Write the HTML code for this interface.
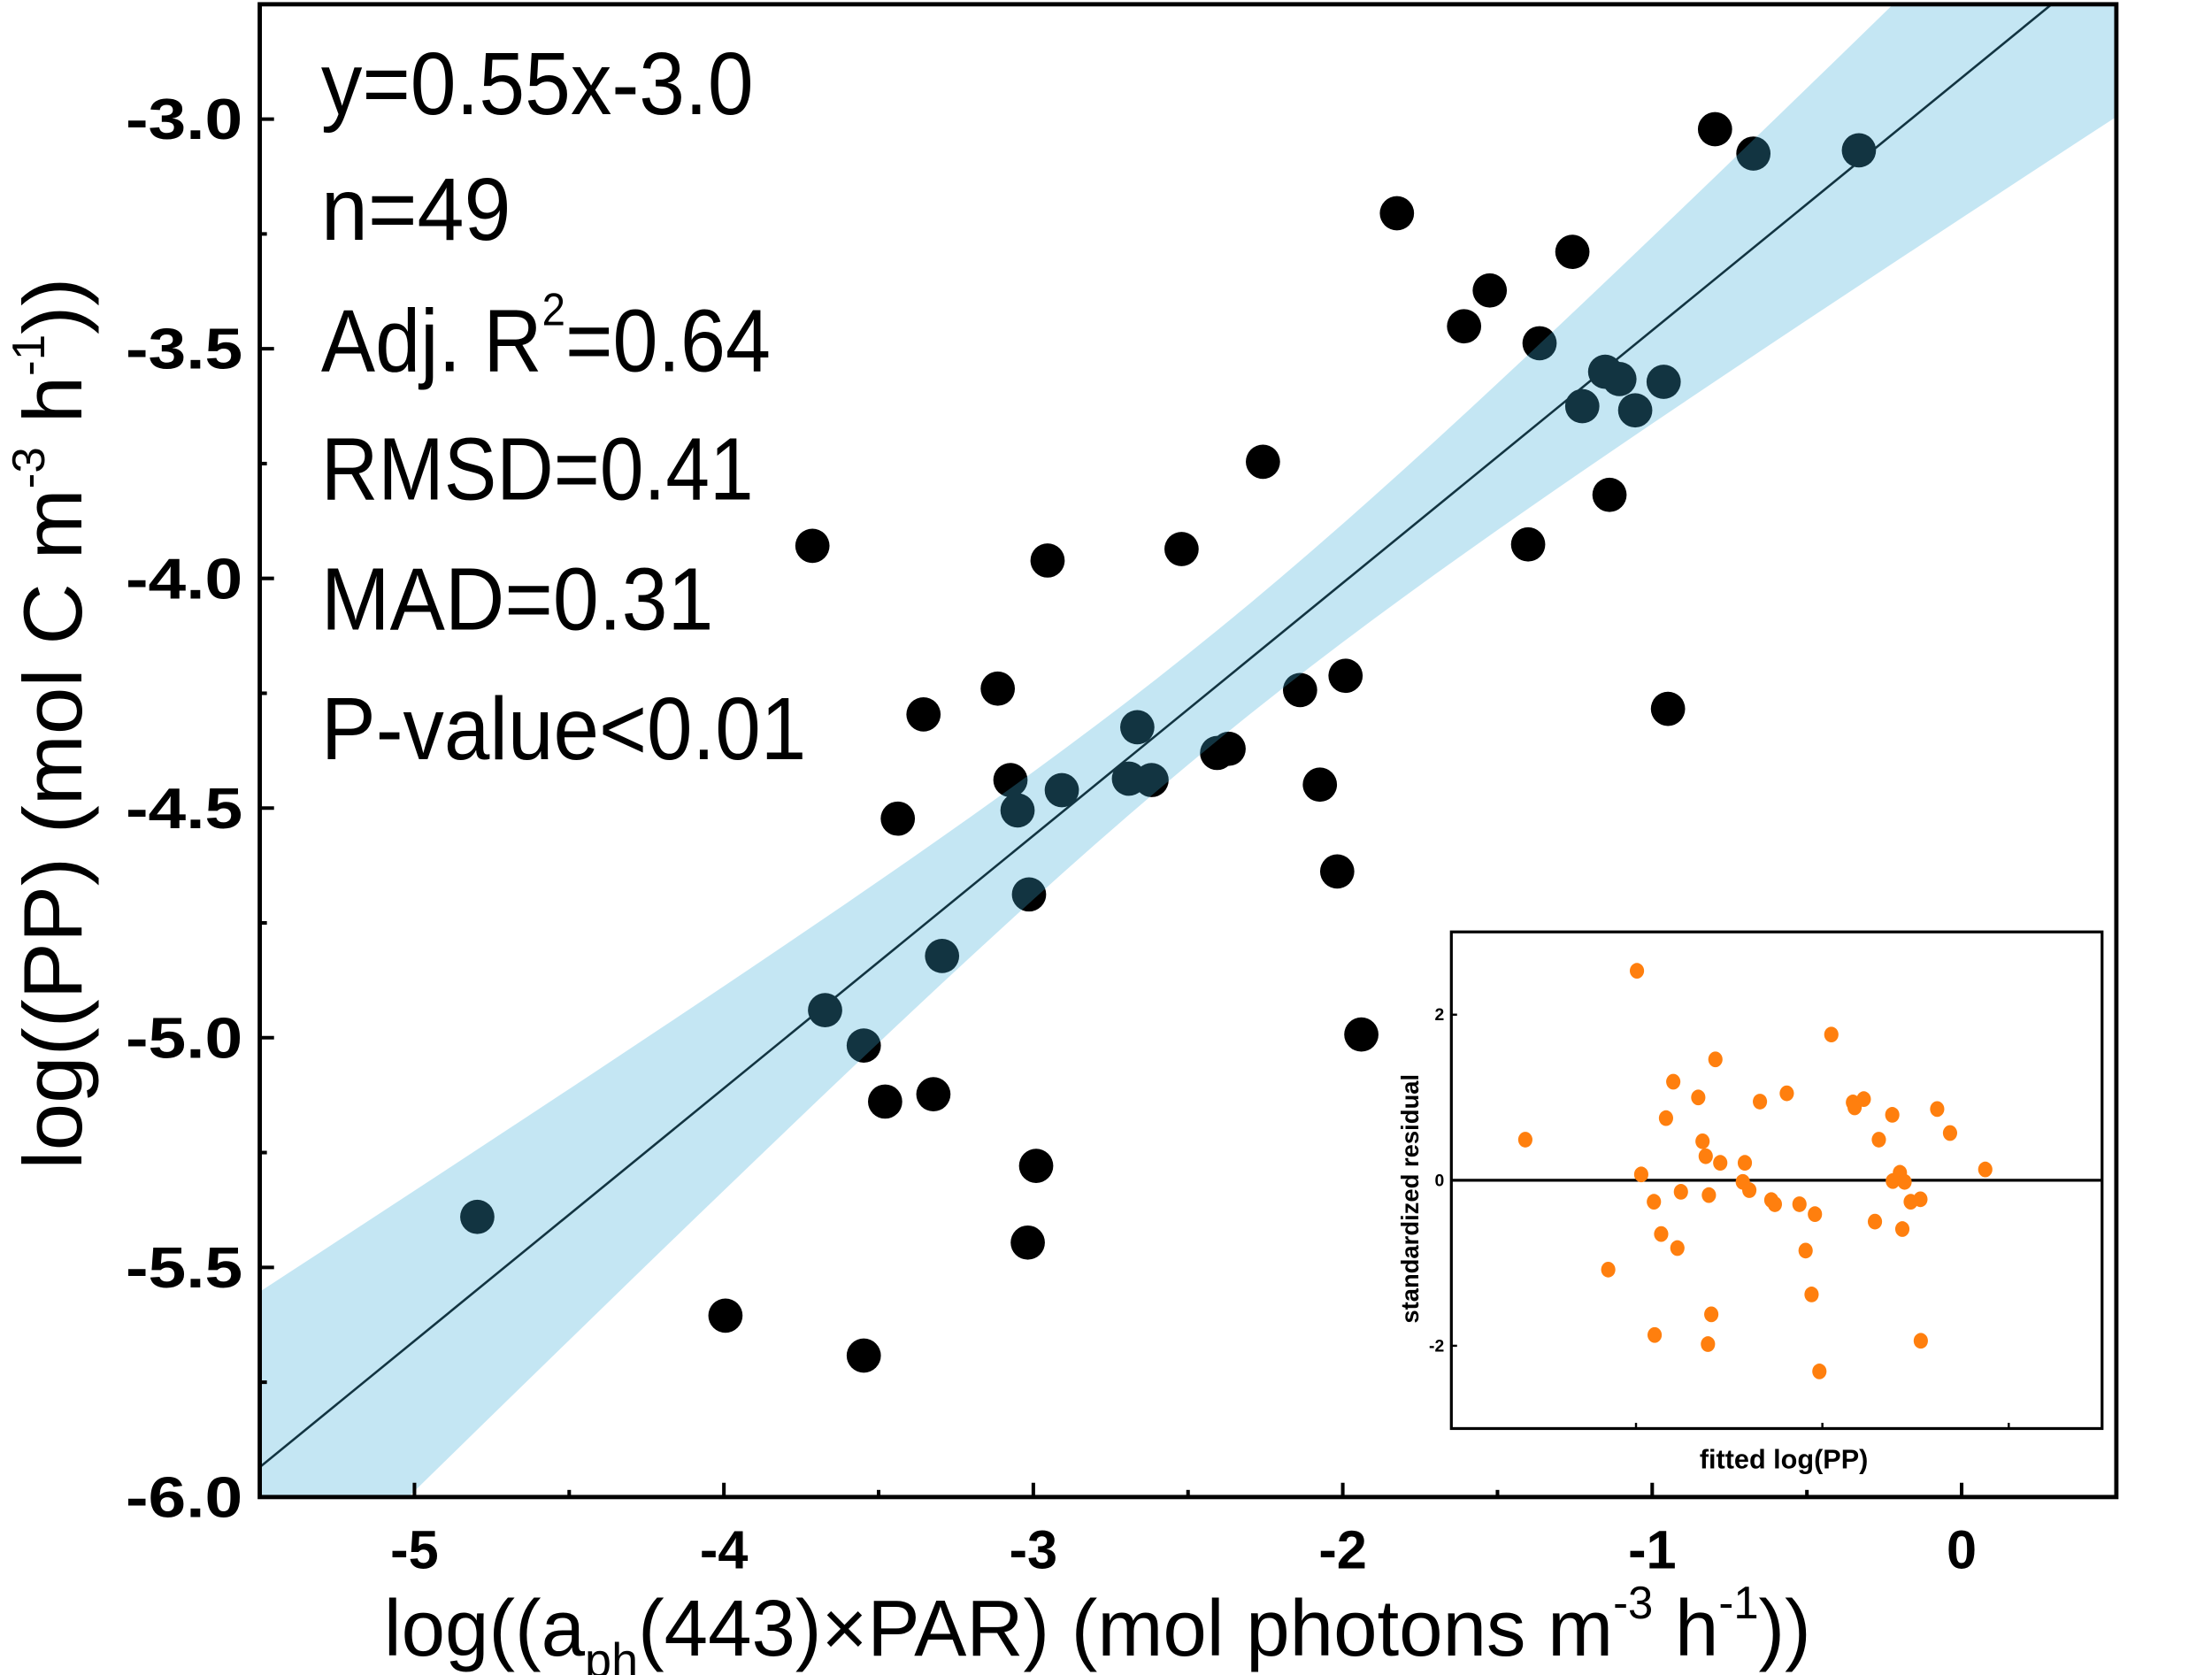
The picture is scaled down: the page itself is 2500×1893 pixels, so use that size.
<!DOCTYPE html>
<html><head><meta charset="utf-8"><style>
html,body{margin:0;padding:0;background:#fff;}
svg{display:block;}
text{font-family:"Liberation Sans","DejaVu Sans",sans-serif;}
</style></head><body>
<svg id="chart" width="2500" height="1893" viewBox="0 0 1550 1173.7" xmlns="http://www.w3.org/2000/svg">
<defs><clipPath id="plotclip"><rect x="182" y="3" width="1301" height="1046"/></clipPath>
<clipPath id="insetclip"><rect x="1017" y="653" width="456" height="348"/></clipPath></defs>
<g id="main-plot"></g>
<g id="stats">
<text x="225" y="80" font-size="62" textLength="303" lengthAdjust="spacingAndGlyphs">y=0.55x-3.0</text>
<text x="225" y="168" font-size="62" textLength="133" lengthAdjust="spacingAndGlyphs">n=49</text>
<text x="225" y="260" font-size="62" textLength="315" lengthAdjust="spacingAndGlyphs">Adj. R<tspan font-size="32" dy="-32">2</tspan><tspan dy="32">=0.64</tspan></text>
<text x="225" y="350" font-size="62" textLength="303" lengthAdjust="spacingAndGlyphs">RMSD=0.41</text>
<text x="225" y="441" font-size="62" textLength="275" lengthAdjust="spacingAndGlyphs">MAD=0.31</text>
<text x="225" y="532" font-size="62" textLength="340" lengthAdjust="spacingAndGlyphs">P-value&lt;0.01</text>
</g>
<text transform="translate(57,507) rotate(-90)" text-anchor="middle" font-size="58" textLength="625" lengthAdjust="spacingAndGlyphs">log((PP) (mol C m<tspan font-size="32" dy="-26">-3</tspan><tspan dy="26"> h</tspan><tspan font-size="32" dy="-26">-1</tspan><tspan dy="26">))</tspan></text>
<text x="769" y="1160" text-anchor="middle" font-size="56" textLength="1000" lengthAdjust="spacingAndGlyphs">log((a<tspan font-size="34" dy="15">ph</tspan><tspan dy="-15">(443)×PAR) (mol photons m</tspan><tspan font-size="32" dy="-26">-3</tspan><tspan dy="26"> h</tspan><tspan font-size="32" dy="-26">-1</tspan><tspan dy="26">))</tspan></text>
<g id="inset"></g>
</svg>
<script>
// ---- main chart data ----
const obsX = [-0.797,-0.673,-0.332,-1.825,-1.258,-1.525,-1.608,-1.364,-1.152,-1.106,-0.963,-1.226,-1.055,-2.258,-1.138,-3.714,-2.521,-1.401,-2.954,-1.991,-2.138,-3.115,-3.355,-0.949,-2.664,-2.369,-2.406,-3.074,-2.691,-2.618,-2.908,-2.074,-3.051,-3.438,-2.018,-3.014,-3.295,-3.673,-3.548,-1.940,-3.479,-3.323,-2.991,-3.018,-4.797,-3.995,-3.548];
const obsY = [-3.022,-3.075,-3.068,-3.205,-3.289,-3.373,-3.451,-3.488,-3.550,-3.566,-3.572,-3.625,-3.634,-3.746,-3.818,-3.929,-3.936,-3.926,-3.961,-4.212,-4.243,-4.240,-4.296,-4.284,-4.324,-4.371,-4.380,-4.439,-4.436,-4.439,-4.461,-4.449,-4.505,-4.523,-4.638,-4.688,-4.822,-4.940,-5.017,-4.993,-5.139,-5.123,-5.279,-5.446,-5.390,-5.605,-5.692];
const fitSlope = [0.55];
const fitIntercept = [-2.91];
const ciParams = [0.12, 0.117, -2.4]; // min half-width, spread, center
const xTicks = [-5,-4,-3,-2,-1,0];
const xTickLabels = ["-5","-4","-3","-2","-1","0"];
const yTicks = [-3.0,-3.5,-4.0,-4.5,-5.0,-5.5,-6.0];
const yTickLabels = ["-3.0","-3.5","-4.0","-4.5","-5.0","-5.5","-6.0"];
// ---- inset data ----
const fittedX = [-4.995,-3.952,-4.574,-4.80,-4.666,-4.335,-4.191,-3.836,-3.827,-3.778,-3.625,-3.384,-4.839,-3.315,-5.594,-4.643,-3.697,-4.626,-4.548,-4.416,-3.126,-4.972,-3.584,-3.622,-3.559,-4.427,-4.392,-4.759,-4.609,-4.274,-4.255,-4.123,-3.526,-3.474,-4.904,-4.040,-3.718,-3.571,-4.865,-4.778,-4.090,-5.149,-4.058,-4.596,-4.900,-4.614,-3.472,-4.016];
const residY = [2.53,1.76,1.46,1.19,1.00,0.95,1.05,0.94,0.88,0.98,0.79,0.86,0.75,0.57,0.49,0.47,0.49,0.29,0.21,0.21,0.13,0.07,0.09,-0.01,-0.02,-0.02,-0.12,-0.14,-0.18,-0.24,-0.29,-0.29,-0.26,-0.23,-0.26,-0.41,-0.50,-0.59,-0.65,-0.82,-0.85,-1.08,-1.38,-1.62,-1.87,-1.98,-1.94,-2.31];
const insetYTicks = [2,0,-2];
const insetYTickLabels = ["2","0","-2"];
const insetXTicks = [-5,-4,-3];

const NS="http://www.w3.org/2000/svg";
function mk(tag, attrs, parent){const e=document.createElementNS(NS,tag);for(const k in attrs)e.setAttribute(k,attrs[k]);parent.appendChild(e);return e;}
const L=182,R=1483,T=3,B=1049, X0=-5.5,X1=0.5,Y0=-6.0,Y1=-2.75;
const sx=v=>L+(v-X0)/(X1-X0)*(R-L);
const sy=v=>B-(v-Y0)/(Y1-Y0)*(B-T);
const main=document.getElementById('main-plot');
const cg=mk('g',{'clip-path':'url(#plotclip)'},main);
for(let i=0;i<obsX.length;i++){
  const c=mk('circle',{cx:sx(obsX[i]),cy:sy(obsY[i]),r:12,fill:'#000'},cg);
  
  
}
const fy=x=>fitSlope[0]*x+fitIntercept[0];
const fl=mk('line',{x1:sx(X0),y1:sy(fy(X0)),x2:sx(X1),y2:sy(fy(X1)),stroke:'#000','stroke-width':1.6},cg);


const hw=x=>Math.sqrt(ciParams[0]*ciParams[0]+ciParams[1]*ciParams[1]*(x-ciParams[2])*(x-ciParams[2]));
let up=[],lo=[];
for(let k=0;k<=60;k++){const x=X0+(X1-X0)*k/60;up.push(sx(x)+','+sy(fy(x)+hw(x)));lo.unshift(sx(x)+','+sy(fy(x)-hw(x)));}
const band=mk('polygon',{points:up.concat(lo).join(' '),fill:'rgba(60,171,215,0.3)'},cg);


const fr=mk('rect',{x:L,y:T,width:R-L,height:B-T,fill:'none',stroke:'#000','stroke-width':3},main);


for(let i=0;i<xTicks.length;i++){
  const x=sx(xTicks[i]);
  mk('line',{x1:x,y1:B,x2:x,y2:B-10,stroke:'#000','stroke-width':2.5},main);
  const m=sx(xTicks[i]+0.5);
  if(xTicks[i]+0.5<=X1) mk('line',{x1:m,y1:B,x2:m,y2:B-5,stroke:'#000','stroke-width':2.5},main);
  const t=mk('text',{x:x,y:B+50,'text-anchor':'middle','font-size':38,'font-weight':'bold'},main);
  t.textContent=xTickLabels[i];
  
  
}
mk('line',{x1:sx(-5.5),y1:B,x2:sx(-5.5),y2:B-5,stroke:'#000','stroke-width':2.5},main);
for(let i=0;i<yTicks.length;i++){
  const y=sy(yTicks[i]);
  mk('line',{x1:L,y1:y,x2:L+10,y2:y,stroke:'#000','stroke-width':2.5},main);
  const m=sy(yTicks[i]-0.25);
  if(yTicks[i]-0.25>=Y0) mk('line',{x1:L,y1:m,x2:L+5,y2:m,stroke:'#000','stroke-width':2.5},main);
  const t=mk('text',{x:L-12,y:y+14,'text-anchor':'end','font-size':40,'font-weight':'bold',textLength:82,lengthAdjust:'spacingAndGlyphs'},main);
  t.textContent=yTickLabels[i];
  
  
}
// ---- inset ----
const inset=document.getElementById('inset');
const iL=1017,iR=1473,iT=653,iB=1001;
const isx=v=>1146.4+(v+5)*130.6;
const isy=v=>827-v*58;
mk('rect',{x:iL,y:iT,width:iR-iL,height:iB-iT,fill:'#fff',stroke:'#000','stroke-width':2},inset);
const ig=mk('g',{'clip-path':'url(#insetclip)'},inset);
const zl=mk('line',{x1:iL,y1:isy(0),x2:iR,y2:isy(0),stroke:'#000','stroke-width':2},ig);


for(let i=0;i<fittedX.length;i++){
  const c=mk('ellipse',{cx:isx(fittedX[i]),cy:isy(residY[i]),rx:5,ry:5.5,fill:'#ff7f0e'},ig);
  
  
}
for(let i=0;i<insetYTicks.length;i++){
  const y=isy(insetYTicks[i]);
  mk('line',{x1:iL,y1:y,x2:iL+4,y2:y,stroke:'#000','stroke-width':1.5},inset);
  const t=mk('text',{x:iL-5,y:y+4,'text-anchor':'end','font-size':12,'font-weight':'bold'},inset);
  t.textContent=insetYTickLabels[i];
  
  
}
for(let i=0;i<insetXTicks.length;i++){
  const x=isx(insetXTicks[i]);
  mk('line',{x1:x,y1:iB,x2:x,y2:iB-4,stroke:'#000','stroke-width':1.5},inset);
}
const ixl=mk('text',{x:1250,y:1029,'text-anchor':'middle','font-size':19,'font-weight':'bold'},inset);
ixl.textContent='fitted log(PP)';


const iyl=mk('text',{transform:'translate(994,840) rotate(-90)','text-anchor':'middle','font-size':17,'font-weight':'bold'},inset);
iyl.textContent='standardized residual';


</script>
</body></html>
